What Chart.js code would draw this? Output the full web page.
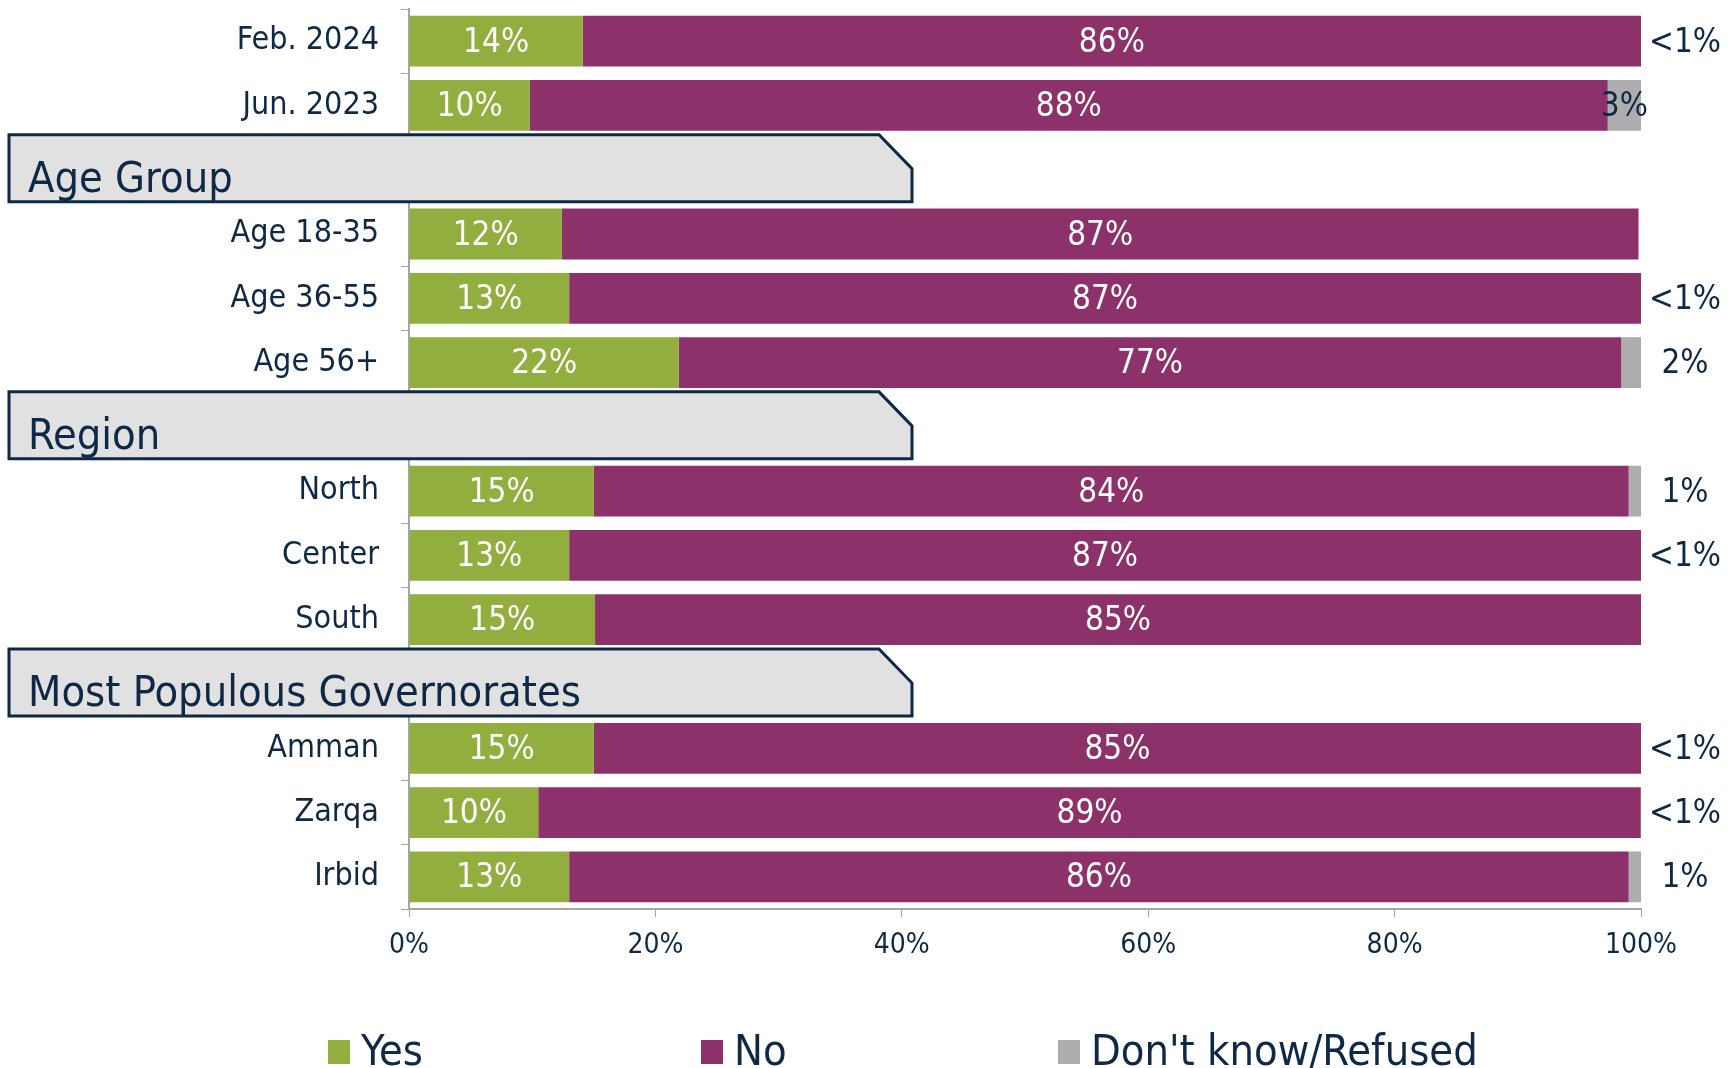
<!DOCTYPE html>
<html>
<head>
<meta charset="utf-8">
<script src="https://cdn.jsdelivr.net/npm/chart.js@4/dist/chart.umd.min.js"></script>
<style>
  html, body { margin: 0; padding: 0; background: #fff; }
  #wrap { width: 1731px; height: 1068px; }
</style>
</head>
<body>
<div id="wrap"><canvas id="chart" width="1731" height="1068"></canvas></div>
<script>
// rows, with empty slots where the group headers sit
const categories = ['Feb. 2024', 'Jun. 2023', '', 'Age 18-35', 'Age 36-55', 'Age 56+', '',
    'North', 'Center', 'South', '', 'Amman', 'Zarqa', 'Irbid'];
const groupTitles = ['Age Group', 'Region', 'Most Populous Governorates'];
const groupRows = [2, 6, 10];

const yesValues = [14.1, 9.8, null, 12.4, 13.0, 21.9, null, 15.0, 13.0, 15.1, null, 15.0, 10.49, 13.0];
const noValues  = [85.9, 87.5, null, 87.4, 87.0, 76.5, null, 84.0, 87.0, 84.9, null, 85.0, 89.49, 86.0];
const dkValues  = [0.3, 2.7, null, 0, 0.4, 1.6, null, 1.0, 0.4, 0, null, 0.4, 0.4, 1.0];

const xTicks = [0, 20, 40, 60, 80, 100];

const FONT = "'DejaVu Sans Condensed', 'Liberation Sans Narrow', sans-serif";
const NAVY = '#0f2845';

document.addEventListener('DOMContentLoaded', function() {
    const ctxEl = document.getElementById('chart');

    // percentage labels on the segments
    const segmentLabels = {
        id: 'segmentLabels',
        afterDatasetsDraw(chart) {
            const ctx = chart.ctx;
            const area = chart.chartArea;
            ctx.save();
            ctx.font = '33px ' + FONT;
            ctx.textAlign = 'center';
            ctx.textBaseline = 'middle';
            chart.data.datasets.forEach(function(ds, di) {
                const meta = chart.getDatasetMeta(di);
                meta.data.forEach(function(bar, i) {
                    const v = ds.data[i];
                    if (v == null || v === 0) return;
                    const p = bar.getProps(['x', 'base', 'y'], true);
                    const text = v < 0.5 ? '<1%' : Math.round(v) + '%';
                    let x = (Math.min(p.x, area.right) + p.base) / 2;
                    ctx.fillStyle = '#ffffff';
                    if (di === 2) {
                        ctx.fillStyle = NAVY;
                        if (v < 2.5) x = area.right + 44;
                    }
                    ctx.fillText(text, x, p.y + 2);
                });
            });
            ctx.restore();
        }
    };

    // grey group header boxes and the legend
    const headersAndLegend = {
        id: 'headersAndLegend',
        afterDraw(chart) {
            const ctx = chart.ctx;
            const yScale = chart.scales.y;
            ctx.save();
            groupRows.forEach(function(row, k) {
                const yc = yScale.getPixelForValue(row);
                const top = yc - 35, bottom = yc + 32;
                const left = 9, right = 912, notch = 33;
                ctx.beginPath();
                ctx.moveTo(left, top);
                ctx.lineTo(right - notch, top);
                ctx.lineTo(right, top + 34);
                ctx.lineTo(right, bottom);
                ctx.lineTo(left, bottom);
                ctx.closePath();
                ctx.fillStyle = '#e1e1e1';
                ctx.fill();
                ctx.lineWidth = 3;
                ctx.strokeStyle = NAVY;
                ctx.stroke();
                ctx.fillStyle = NAVY;
                ctx.font = '43px ' + FONT;
                ctx.textAlign = 'left';
                ctx.textBaseline = 'alphabetic';
                ctx.fillText(groupTitles[k], 28, bottom - 10);
            });

            // legend
            const legendX = [328, 701, 1058];
            ctx.font = '43px ' + FONT;
            ctx.textBaseline = 'middle';
            chart.data.datasets.forEach(function(ds, i) {
                ctx.fillStyle = ds.backgroundColor;
                ctx.fillRect(legendX[i], 1040, 22, 24);
                ctx.fillStyle = NAVY;
                ctx.fillText(ds.label, legendX[i] + 33, 1054);
            });
            ctx.restore();
        }
    };

    new Chart(ctxEl, {
        type: 'bar',
        data: {
            labels: categories,
            datasets: [{
                label: 'Yes',
                data: yesValues,
                backgroundColor: '#91ae3f'
            }, {
                label: 'No',
                data: noValues,
                backgroundColor: '#8d316b'
            }, {
                label: "Don't know/Refused",
                data: dkValues,
                backgroundColor: '#adadaf'
            }]
        },
        options: {
            indexAxis: 'y',
            responsive: false,
            animation: false,
            categoryPercentage: 1,
            barPercentage: 0.79,
            layout: {
                padding: { top: 9, right: 90, bottom: 89, left: 0 }
            },
            plugins: {
                legend: { display: false },
                tooltip: { enabled: false }
            },
            scales: {
                x: {
                    stacked: true,
                    min: 0,
                    max: 100,
                    afterFit: function(scale) { scale.height = 70; },
                    afterBuildTicks: function(scale) {
                        scale.ticks = xTicks.map(v => ({ value: v }));
                    },
                    border: { display: true, color: '#a6a6a6', width: 2 },
                    grid: {
                        drawOnChartArea: false,
                        drawTicks: true,
                        tickLength: 8,
                        color: '#a6a6a6'
                    },
                    ticks: {
                        padding: 12,
                        color: NAVY,
                        font: { family: FONT, size: 28 },
                        callback: function(value) { return value + '%'; }
                    }
                },
                y: {
                    stacked: true,
                    afterFit: function(scale) {
                        scale.width = 409;
                        scale.paddingTop = 0;
                        scale.paddingBottom = 0;
                    },
                    border: { display: true, color: '#a6a6a6', width: 2 },
                    grid: {
                        offset: true,
                        drawOnChartArea: false,
                        drawTicks: true,
                        tickLength: 8,
                        color: '#a6a6a6'
                    },
                    ticks: {
                        padding: 22,
                        color: NAVY,
                        font: { family: FONT, size: 32 }
                    }
                }
            }
        },
        plugins: [segmentLabels, headersAndLegend]
    });
});
</script>
</body>
</html>
